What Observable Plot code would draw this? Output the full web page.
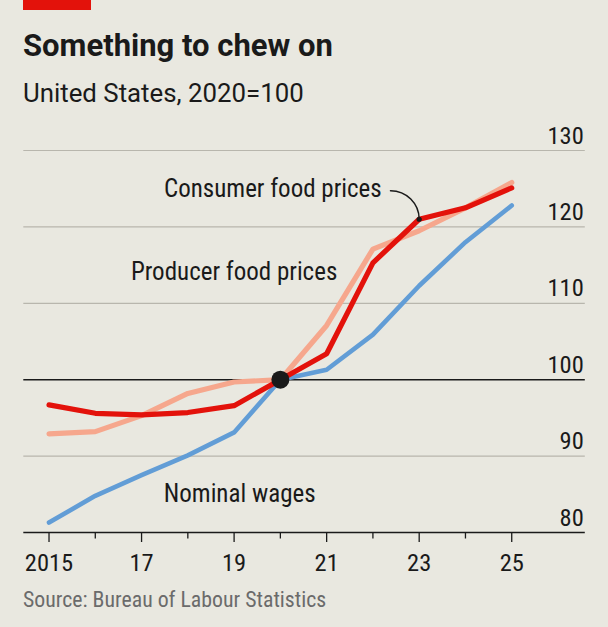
<!DOCTYPE html>
<html>
<head>
<meta charset="utf-8">
<script src="https://cdn.jsdelivr.net/npm/d3@7"></script>
<script src="https://cdn.jsdelivr.net/npm/@observablehq/plot@0.6"></script>
<style>
  html, body { margin: 0; padding: 0; background: #e9e8e0; }
  #chart {
    position: relative; width: 608px; height: 627px; overflow: hidden;
    background: #e9e8e0; color: #1a1a1a;
    font-family: "Roboto Condensed", Roboto, sans-serif;
  }
  .bar { position: absolute; left: 23px; top: 0; width: 68px; height: 10px; background: #e3120b; }
  .title { position: absolute; left: 23px; top: 29.6px; font-family: Roboto, sans-serif; font-size: 31px; line-height: 31px; font-weight: 700; white-space: nowrap; }
  .subtitle { position: absolute; left: 23px; top: 80.6px; font-family: Roboto, sans-serif; font-size: 25.8px; line-height: 25.8px; white-space: nowrap; }
  .source { position: absolute; left: 23px; top: 589.4px; font-size: 21.8px; line-height: 21.8px; color: #6b6b6b; white-space: nowrap; }
  #plot { position: absolute; left: 0; top: 115px; }
</style>
</head>
<body>
<div id="chart">
  <div class="bar"></div>
  <div class="title">Something to chew on</div>
  <div class="subtitle">United States, 2020=100</div>
  <div id="plot"></div>
  <div class="source">Source: Bureau of Labour Statistics</div>
</div>
<script>
// Annual index values, 2020 = 100
const years = [2015, 2016, 2017, 2018, 2019, 2020, 2021, 2022, 2023, 2024, 2025];
const consumerFood = [96.7, 95.6, 95.4, 95.7, 96.6, 100, 103.4, 115.3, 121.0, 122.5, 125.1];
const producerFood = [92.9, 93.2, 95.3, 98.2, 99.7, 100, 107.1, 117.1, 119.5, 122.5, 125.8];
const nominalWages = [81.3, 84.8, 87.5, 90.1, 93.1, 100, 101.3, 105.9, 112.3, 118.0, 122.8];

// Axis ticks
const yTicks = [80, 90, 100, 110, 120, 130];
const gridValues = [90, 110, 120, 130];
const majorYears = [2015, 2017, 2019, 2021, 2023, 2025];
const minorYears = [2016, 2018, 2020, 2022, 2024];
const baseYear = 2020;
const calloutYear = 2023;

// Series labels
const seriesNames = ["Consumer food prices", "Producer food prices", "Nominal wages"];

const colours = { consumer: "#e3120b", producer: "#f6a78d", wages: "#629dd6" };
const ink = "#1a1a1a";

const toRows = (values) => years.map((year, i) => ({ year, value: values[i] }));
const consumerRows = toRows(consumerFood);
const producerRows = toRows(producerFood);
const wageRows = toRows(nominalWages);

const baseIndex = years.indexOf(baseYear);
const calloutIndex = years.indexOf(calloutYear);
const basePoint = [{ year: baseYear, value: consumerFood[baseIndex] }];
const calloutPoint = [{ year: calloutYear, value: consumerFood[calloutIndex] }];

// Label placement in chart units (year, index); "end" labels sit left of their anchor
const labels = [
  { text: seriesNames[0], year: 2022.19, value: 123.86, anchor: "end" },
  { text: seriesNames[1], year: 2021.23, value: 113.05, anchor: "end" },
  { text: seriesNames[2], year: 2017.48, value: 83.94, anchor: "start" }
];
const connector = [{ x1: 2022.38, y1: 124.74, x2: calloutYear, y2: consumerFood[calloutIndex] }];

const labelText = (anchor) => Plot.text(labels.filter((d) => d.anchor === anchor), {
  x: "year", y: "value", text: "text", textAnchor: anchor, lineAnchor: "bottom", fontSize: 25, fill: ink
});

const chart = Plot.plot({
  width: 608,
  height: 465,
  marginTop: 35,
  marginBottom: 48,
  marginLeft: 23.3,
  marginRight: 23.2,
  style: { fontFamily: '"Roboto Condensed", Roboto, sans-serif', fontSize: "24.5px", color: ink, background: "transparent", overflow: "visible" },
  x: { domain: [2014.455, 2026.59], label: null },
  y: { domain: [80, 130], label: null },
  marks: [
    Plot.gridY(gridValues, { stroke: "#b8b6ad", strokeOpacity: 1, strokeWidth: 1.2 }),
    Plot.ruleY([100], { stroke: ink, strokeWidth: 1.4 }),
    Plot.line(wageRows, { x: "year", y: "value", stroke: colours.wages, strokeWidth: 4.6 }),
    Plot.line(producerRows, { x: "year", y: "value", stroke: colours.producer, strokeWidth: 5.2 }),
    Plot.line(consumerRows, { x: "year", y: "value", stroke: colours.consumer, strokeWidth: 5.2 }),
    Plot.dot(basePoint, { x: "year", y: "value", r: 9, fill: ink }),
    Plot.arrow(connector, { x1: "x1", y1: "y1", x2: "x2", y2: "y2", bend: 45, headLength: 0, stroke: ink, strokeWidth: 1.5 }),
    Plot.dot(calloutPoint, { x: "year", y: "value", r: 2.6, fill: ink }),
    labelText("end"),
    labelText("start"),
    Plot.ruleY([80], { stroke: ink, strokeWidth: 1.6 }),
    Plot.axisX({ ticks: majorYears, tickSize: 10, tickPadding: 10.6, strokeWidth: 1.3,
      tickFormat: (d) => d === years[0] ? String(d) : String(d).slice(2), label: null }),
    Plot.axisX({ ticks: minorYears, tickSize: 6.5, strokeWidth: 1.3, tickFormat: () => "", label: null }),
    Plot.axisY({ ticks: yTicks, anchor: "right", tickSize: 0, tickPadding: 0, textAnchor: "end",
      lineAnchor: "bottom", dx: -1.5, dy: -7, label: null })
  ]
});
document.getElementById("plot").appendChild(chart);
</script>
</body>
</html>
